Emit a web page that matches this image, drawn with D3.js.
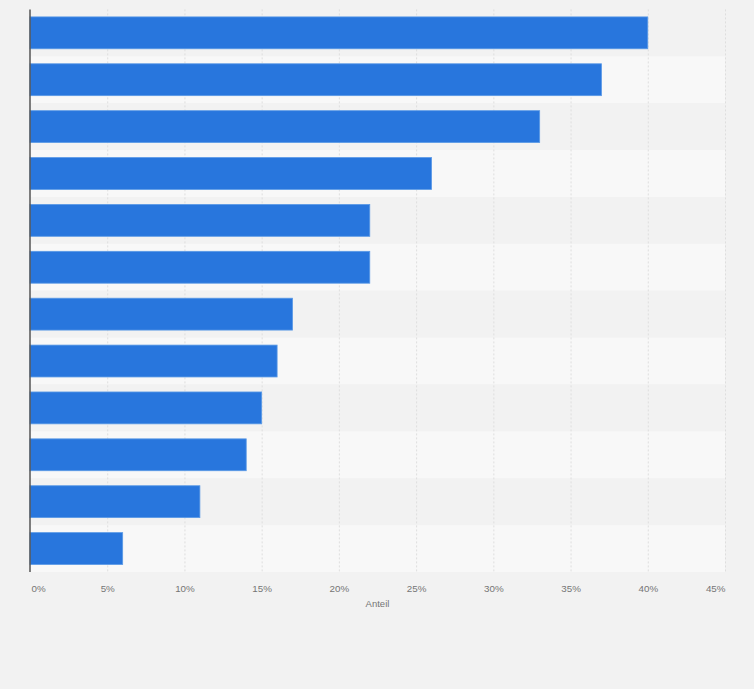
<!DOCTYPE html>
<html>
<head>
<meta charset="utf-8">
<script src="https://cdn.jsdelivr.net/npm/d3@7"></script>
<style>
    html, body { margin: 0; padding: 0; background: #f2f2f2; }
    svg { display: block; font-family: "Liberation Sans", Arial, sans-serif; }
</style>
</head>
<body>
<div id="chart"></div>
<script>
// categories have no visible labels in the picture
const categories = ["K1", "K2", "K3", "K4", "K5", "K6", "K7", "K8", "K9", "K10", "K11", "K12"];
const values = [40, 37, 33, 26, 22, 22, 17, 16, 15, 14, 11, 6];
const xTicks = [0, 5, 10, 15, 20, 25, 30, 35, 40, 45];
const axisTitle = "Anteil";

const width = 754;
const height = 689;
const margin = { top: 9.4, right: 29, bottom: 117, left: 30 };
const innerW = width - margin.left - margin.right;
const innerH = height - margin.top - margin.bottom;

const svg = d3.select("#chart")
    .append("svg")
    .attr("width", width)
    .attr("height", height);

svg.append("rect")
    .attr("width", width)
    .attr("height", height)
    .attr("fill", "#f2f2f2");

const g = svg.append("g")
    .attr("transform", `translate(${margin.left},${margin.top})`);

const x = d3.scaleLinear().domain([0, 45]).range([0, innerW]);
const yBand = d3.scaleBand().domain(categories).range([0, innerH]);
// bar centred in its row
const y = d3.scaleBand().domain(categories).range([0, innerH]).paddingInner(0.32).paddingOuter(0.16);

// alternating row stripes
g.selectAll(".stripe")
    .data(categories)
    .join("rect")
    .attr("class", "stripe")
    .attr("x", 0)
    .attr("y", (d) => yBand(d))
    .attr("width", innerW)
    .attr("height", yBand.bandwidth())
    .attr("fill", (d, i) => (i % 2 ? "#f8f8f8" : "#f2f2f2"));

// dashed gridlines
g.selectAll(".grid")
    .data(xTicks.slice(1))
    .join("line")
    .attr("class", "grid")
    .attr("x1", (d) => x(d) + 0.5)
    .attr("x2", (d) => x(d) + 0.5)
    .attr("y1", 0)
    .attr("y2", innerH)
    .attr("stroke", "#dedede")
    .attr("stroke-width", 1)
    .attr("stroke-dasharray", "2,2");

// bars
g.selectAll(".bar")
    .data(values)
    .join("rect")
    .attr("class", "bar")
    .attr("x", 0)
    .attr("y", (d, i) => y(categories[i]))
    .attr("width", (d) => x(d))
    .attr("height", y.bandwidth())
    .attr("fill", "#2876dd")
    .attr("stroke", "#5b9ae6")
    .attr("stroke-width", 0.8);

// left axis line
g.append("line")
    .attr("x1", 0)
    .attr("x2", 0)
    .attr("y1", 0)
    .attr("y2", innerH)
    .attr("stroke", "#555")
    .attr("stroke-width", 1.5);

// x axis
const xAxis = d3.axisBottom(x)
    .tickValues(xTicks)
    .tickFormat((d) => `${d}%`)
    .tickSize(0)
    .tickPadding(13);

const axisG = g.append("g")
    .attr("transform", `translate(0,${innerH})`)
    .call(xAxis);

axisG.select(".domain").remove();
axisG.selectAll("text")
    .attr("fill", "#757575")
    .style("font-size", "9.8px")
    .attr("text-anchor", (d, i) => (i === 0 ? "start" : i === xTicks.length - 1 ? "end" : "middle"))
    .attr("dx", (d, i) => (i === 0 ? 1 : 0));

g.append("text")
    .attr("x", innerW / 2)
    .attr("y", innerH + 35.5)
    .attr("text-anchor", "middle")
    .attr("fill", "#757575")
    .style("font-size", "9.5px")
    .text(axisTitle);
</script>
</body>
</html>
